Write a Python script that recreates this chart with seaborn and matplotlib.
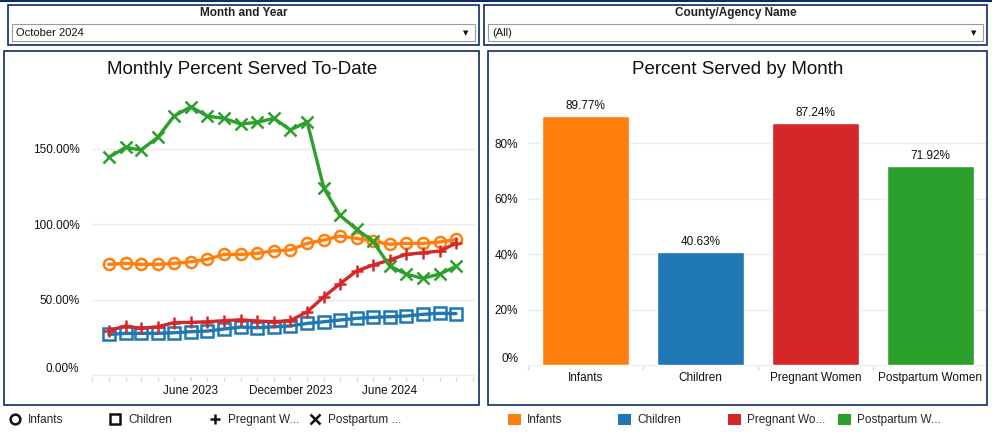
import numpy as np
import pandas as pd
import seaborn as sns
import matplotlib.pyplot as plt
import matplotlib.dates as mdates
from matplotlib.patches import Rectangle
from matplotlib.lines import Line2D
from matplotlib.ticker import FuncFormatter, FixedLocator

sns.set_theme(style="white")
plt.rcParams['font.family'] = ['Liberation Sans', 'DejaVu Sans']

# ---- data ----
months = pd.date_range("2023-01-01", "2024-10-01", freq="MS")
infants = [73.3, 74.0, 73.3, 73.3, 74.0, 75.0, 76.6, 79.9, 79.9, 80.6, 82.3,
           82.8, 87.2, 89.4, 92.1, 90.5, 88.7, 86.6, 87.2, 87.2, 88.1, 89.77]
children = [26.9, 27.6, 27.6, 27.6, 28.0, 28.7, 29.1, 30.5, 31.8, 31.3, 32.0,
            32.5, 34.2, 35.3, 36.4, 37.5, 38.2, 38.6, 39.1, 40.2, 40.9, 40.63]
pregnant = [29.4, 32.5, 30.9, 32.0, 34.7, 34.9, 35.3, 36.0, 36.6, 35.8, 35.3,
            36.0, 41.9, 51.9, 60.3, 68.9, 72.8, 76.2, 79.9, 81.0, 82.1, 87.24]
postpartum = [144.2, 150.8, 149.0, 157.4, 171.5, 177.7, 171.5, 170.0, 166.2, 167.4, 170.0,
              162.3, 167.7, 123.6, 106.0, 96.5, 88.7, 72.2, 66.9, 64.0, 66.9, 71.92]

tick_dates = pd.to_datetime(["2023-06-01", "2023-12-01", "2024-06-01"])
line_yticks = [0, 50, 100, 150]

categories = ["Infants", "Children", "Pregnant Women", "Postpartum Women"]
served = [89.77, 40.63, 87.24, 71.92]
bar_yticks = [0, 20, 40, 60, 80]

line_legend = ["Infants", "Children", "Pregnant W...", "Postpartum ..."]
bar_legend = ["Infants", "Children", "Pregnant Wo...", "Postpartum W..."]

colors = ["#ff7f0e", "#1f77b4", "#d62728", "#2ca02c"]
markers = ["o", "s", "+", "x"]
navy = "#0e2a6b"

W, H = 992, 432


def box(x0, y0, x1, y1):
    return [x0 / W, 1 - y1 / H, (x1 - x0) / W, (y1 - y0) / H]


def frame(x0, y0, x1, y1, color=navy, lw=1.2):
    fig.add_artist(Rectangle((x0 / W, 1 - y1 / H), (x1 - x0) / W, (y1 - y0) / H,
                             transform=fig.transFigure, fill=False, edgecolor=color, lw=lw))


fig = plt.figure(figsize=(W / 100, H / 100), dpi=100)

# top filters
fig.add_artist(Line2D([0, 1], [1 - 1 / H, 1 - 1 / H], transform=fig.transFigure, color=navy, lw=1.5))
for (x0, x1, title, value) in [(8, 479, "Month and Year", "October 2024"),
                               (484, 987, "County/Agency Name", "(All)")]:
    frame(x0, 5, x1, 45)
    frame(x0 + 4, 24, x1 - 4, 41, color="#9a9a9a", lw=0.8)
    fig.text((x0 + x1) / 2 / W, 1 - 13 / H, title, ha="center", va="center",
             fontsize=8.5, fontweight="bold", color="#222222")
    fig.text((x0 + 8) / W, 1 - 33 / H, value, ha="left", va="center", fontsize=8, color="#111111")
    fig.text((x1 - 13) / W, 1 - 33 / H, "▼", ha="center", va="center", fontsize=5,
             color="#111111", family="DejaVu Sans")

# panels
frame(4, 51, 479, 405)
frame(488, 51, 987, 405)

# ---- line chart ----
ax1 = fig.add_axes(box(92, 80, 475, 377))
df = pd.DataFrame({"month": months, "Infants": infants, "Children": children,
                   "Pregnant Women": pregnant, "Postpartum Women": postpartum})
for name, c, m in zip(categories, colors, markers):
    filled = m in ("o", "s")
    sns.lineplot(data=df, x="month", y=name, ax=ax1, color=c, marker=m,
                 markersize=8 if m == "o" else 8.5, markerfacecolor="none" if filled else c,
                 markeredgecolor=c, markeredgewidth=1.8, linewidth=2.4)
ax1.set_xlim(pd.Timestamp("2022-12-01"), pd.Timestamp("2024-11-05"))
ax1.set_ylim(-1.3, 195.4)
ax1.set_xticks(tick_dates)
ax1.xaxis.set_major_formatter(mdates.DateFormatter("%B %Y"))
ax1.xaxis.set_minor_locator(mdates.MonthLocator())
ax1.set_yticks(line_yticks)
ax1.yaxis.set_major_formatter(FuncFormatter(lambda v, p: f"{v:.2f}%"))
ax1.grid(axis="y", color="#ececec", lw=1)
ax1.set_xlabel("")
ax1.set_ylabel("")
for s in ax1.spines.values():
    s.set_visible(False)
ax1.tick_params(axis="y", length=0, pad=9, labelsize=8.5, labelcolor="#111111")
ax1.tick_params(axis="x", which="both", length=3, color="#d9d9d9", bottom=True,
                pad=3, labelsize=8.5, labelcolor="#111111")
ax1.get_yticklabels()[0].set_verticalalignment("bottom")
fig.text(242 / W, 1 - 70 / H, "Monthly Percent Served To-Date", ha="center", va="center",
         fontsize=13.5, color="#111111")

# ---- bar chart ----
ax2 = fig.add_axes(box(528, 88, 988, 366))
sns.barplot(x=categories, y=served, hue=categories, palette=colors, width=0.75,
            saturation=1, legend=False, ax=ax2)
for cont in ax2.containers:
    ax2.bar_label(cont, fmt="{:.2f}%", padding=3, fontsize=8.5, color="#111111")
ax2.set_ylim(-0.36, 100)
ax2.set_xlim(-0.5, 3.5)
ax2.set_yticks(bar_yticks)
ax2.yaxis.set_major_formatter(FuncFormatter(lambda v, p: f"{v:.0f}%"))
ax2.xaxis.set_minor_locator(FixedLocator([-0.5, 0.5, 1.5, 2.5]))
ax2.grid(axis="y", color="#ececec", lw=1)
ax2.set_axisbelow(True)
for s in ax2.spines.values():
    s.set_visible(False)
ax2.tick_params(axis="y", length=0, pad=7, labelsize=8.5, labelcolor="#111111")
ax2.tick_params(axis="x", which="major", length=0, pad=4, labelsize=8.5, labelcolor="#111111")
ax2.tick_params(axis="x", which="minor", length=3, color="#d9d9d9", bottom=True)
ax2.get_yticklabels()[0].set_verticalalignment("bottom")
fig.text(738 / W, 1 - 70 / H, "Percent Served by Month", ha="center", va="center",
         fontsize=13.5, color="#111111")

# ---- legends ----
for i, (lab, m) in enumerate(zip(line_legend, markers)):
    h = Line2D([], [], color="#111111", marker=m, linestyle="none", markersize=7,
               markerfacecolor="none", markeredgewidth=1.8)
    fig.legend(handles=[h], labels=[lab], loc="center left", frameon=False,
               bbox_to_anchor=((8 + 100 * i) / W, 1 - 420 / H), fontsize=8.5,
               handletextpad=0.5, handlelength=1.2, borderpad=0, borderaxespad=0)
for i, (lab, c) in enumerate(zip(bar_legend, colors)):
    h = Rectangle((0, 0), 1, 1, facecolor=c, edgecolor="none")
    fig.legend(handles=[h], labels=[lab], loc="center left", frameon=False,
               bbox_to_anchor=((508 + 110 * i) / W, 1 - 420 / H), fontsize=8.5,
               handletextpad=0.5, handlelength=1.1, handleheight=1.1,
               borderpad=0, borderaxespad=0)

plt.savefig("out.png", dpi=100)
